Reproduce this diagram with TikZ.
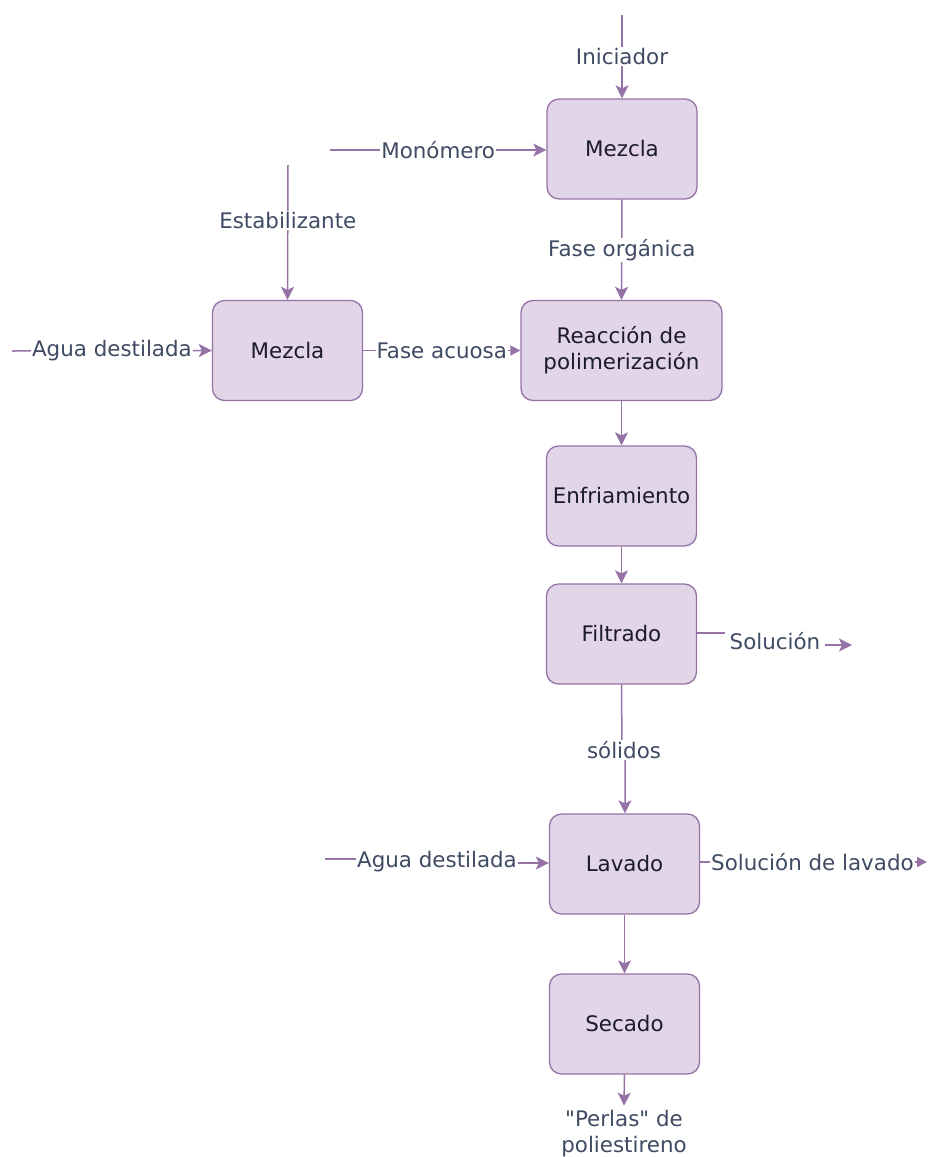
\documentclass[tikz,border=0pt]{standalone}
\usepackage{fontspec}
\setmainfont{DejaVu Sans}
\usetikzlibrary{arrows.meta}
\definecolor{ln}{HTML}{9673A6}
\definecolor{bx}{HTML}{E1D5E7}
\definecolor{labc}{HTML}{3F4B63}
\definecolor{btx}{HTML}{1B1B2B}
\begin{document}
\begin{tikzpicture}[x=1pt,y=-1pt,
  box/.style={draw=ln, fill=bx, rounded corners=12pt, minimum width=150pt, minimum height=100pt,
    line width=1.3pt, text=btx, font=\fontsize{21.4}{26}\selectfont, align=center},
  lab/.style={fill=white, inner sep=1pt, text=labc, font=\fontsize{21.4}{26}\selectfont, align=center},
  flow/.style={draw=ln, line width=1.5pt, -{Stealth[length=13pt,width=13pt,inset=3pt]}},
  flowt/.style={draw=ln, line width=1.5pt, -{Triangle[length=10pt,width=10pt]}},
  plain/.style={draw=ln, line width=1.5pt}]
\useasboundingbox (0,0) rectangle (927,1157);

% boxes
\node[box] (m1) at (622,149) {Mezcla};
\node[box] (m2) at (287.5,350.5) {Mezcla};
\node[box, minimum width=201pt] (rx) at (621.5,350.5) {Reacción de\\polimerización};
\node[box] (enf) at (621.5,496) {Enfriamiento};
\node[box] (fil) at (621.5,634) {Filtrado};
\node[box] (lav) at (624.5,864) {Lavado};
\node[box] (sec) at (624.5,1024) {Secado};

% free ends
\coordinate (iniS) at (622,15);
\coordinate (monS) at (330,150);
\coordinate (estS) at (288,165);
\coordinate (agS) at (12,351);
\coordinate (ag2S) at (325,859);
\coordinate (ag2a) at (437,859);
\coordinate (ag2b) at (437,863);
\coordinate (solA) at (775,633);
\coordinate (solB) at (775,645);
\coordinate (solE) at (852,645);
\coordinate (solidA) at (622,750);
\coordinate (solidB) at (625,750);
\coordinate (slE) at (927,862);

% connectors
\draw[flow] (iniS) -- node[lab] (lini) {Iniciador} (m1.north);
\draw[flow] (monS) -- node[lab] (lmon) {Monómero} (monS -| m1.west);
\draw[flow] (m1.south) -- node[lab] (lfo) {Fase orgánica} (rx.north);
\draw[flow] (estS) -- node[lab, pos=0.41] (lest) {Estabilizante} (m2.north);
\draw[flow] (agS) -- node[lab] (lag) {Agua destilada} (m2.west);
\draw[flowt] (m2.east) -- node[lab] (lfa) {Fase acuosa} (rx.west);
\draw[flow] (rx.south) -- (enf.north);
\draw[flow] (enf.south) -- (fil.north);
\draw[flow] (fil.east |- solA) -- (solA) -- (solB) -- (solE);
\node[lab, inner xsep=5pt] (lsol) at (775,641) {Solución};
\draw[flow] (fil.south) -- (solidA) -- (solidB) -- (solidB |- lav.north);
\node[lab] (lsold) at (624,750) {sólidos};
\draw[flow] (ag2S) -- (ag2a) -- (ag2b) -- (ag2b -| lav.west);
\node[lab] (lag2) at (437,862) {Agua destilada};
\draw[flowt] (lav.east |- slE) -- node[lab, pos=0.495] (lsl) {Solución de lavado} (slE);
\draw[flow] (lav.south) -- (sec.north);
\node[lab, fill=none, text depth=0pt] (perl) at (624,1131) {\textquotedbl Perlas\textquotedbl\ de\\poliestireno};
\draw[flow] (sec.south) -- ([yshift=3pt]perl.north);
\end{tikzpicture}
\end{document}
